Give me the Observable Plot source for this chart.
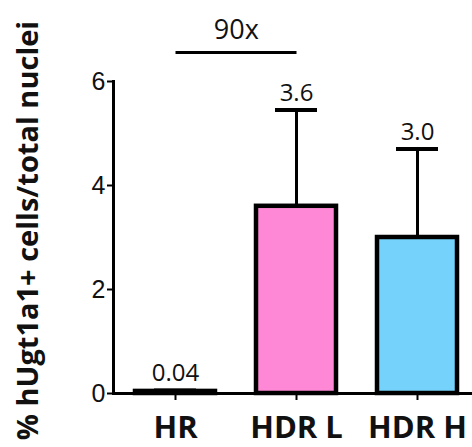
<!DOCTYPE html>
<html><head>
<meta charset="utf-8">
<script src="https://cdn.jsdelivr.net/npm/d3@7"></script>
<script src="https://cdn.jsdelivr.net/npm/@observablehq/plot@0.6"></script>
<style>
body{margin:0;background:#fff;}
#chart svg{display:block;}
</style>
</head><body><div id="chart"></div>
<script>
const groups = ["HR", "HDR L", "HDR H"];
const means = [0.04, 3.6, 3.0];
const errUpper = [0.02, 1.85, 1.7];
const valueLabels = ["0.04", "3.6", "3.0"];
const fills = ["#ffffff", "#ff88d6", "#74d2fb"];
const yTicks = [0, 2, 4, 6];
const yTitle = "% hUgt1a1+ cells/total nuclei";
const bracketGroups = ["HR", "HDR L"];
const bracketY = 6.56;
const bracketLabel = "90x";

const data = groups.map((g, i) => ({g, mean: means[i], top: means[i] + errUpper[i], label: valueLabels[i], fill: fills[i]}));

const xOpts = {domain: groups, range: [113, 478], paddingInner: 0.342, paddingOuter: 0.173};
const xs = Plot.scale({x: {type: "band", ...xOpts}});

const chart = Plot.plot({
  width: 472,
  height: 447,
  marginLeft: 113,
  marginRight: 0,
  marginTop: 81,
  marginBottom: 54,
  style: {background: "#fff", color: "#111"},
  x: {type: "band", ...xOpts, label: null},
  y: {domain: [0, 6], label: null},
  marks: [
    Plot.ruleX(data, {x: "g", y1: "mean", y2: "top", stroke: "#000", strokeWidth: 3}),
    Plot.tickY(data, {x: "g", y: "top", stroke: "#000", strokeWidth: 4, insetLeft: 19, insetRight: 19}),
    Plot.barY(data, {x: "g", y: "mean", fill: "fill", stroke: "#000", strokeWidth: 4.5}),
    Plot.frame({anchor: "left", stroke: "#000", strokeWidth: 3}),
    Plot.ruleY([0], {stroke: "#000", strokeWidth: 3}),
    Plot.axisY({ticks: yTicks, tickFormat: d => String(d), tickSize: 6, tickPadding: 2, fontSize: 25, fontFamily: "Liberation Sans, Arial, sans-serif", strokeWidth: 2, stroke: "#000", fill: "#111"}),
    Plot.axisX({tickSize: 7, tickPadding: 15, fontSize: 31, fontWeight: "bold", fontFamily: "Open Sans, sans-serif", strokeWidth: 2, stroke: "#000", fill: "#111", style: {letterSpacing: "-1px"}}),
    Plot.text(data, {x: "g", y: "top", text: "label", lineAnchor: "bottom", dy: -9, fontSize: 24, fontFamily: "Open Sans, sans-serif", fill: "#111"}),
    Plot.link([{a: bracketGroups[0], b: bracketGroups[1], y: bracketY}], {x1: "a", x2: "b", y1: "y", y2: "y", stroke: "#000", strokeWidth: 3}),
    Plot.text([{a: bracketGroups[0], y: bracketY, t: bracketLabel}], {x: "a", y: "y", text: "t", dx: xs.step / 2, dy: -13, lineAnchor: "bottom", fontSize: 27, fontFamily: "Open Sans, sans-serif", fill: "#111"}),
    Plot.text([yTitle], {frameAnchor: "left", textAnchor: "middle", text: d => d, rotate: -90, dx: -85, dy: -7, fontSize: 29, fontWeight: "bold", fontFamily: "Open Sans, sans-serif", fill: "#111"})
  ]
});
document.getElementById("chart").append(chart);
</script>
</body></html>
